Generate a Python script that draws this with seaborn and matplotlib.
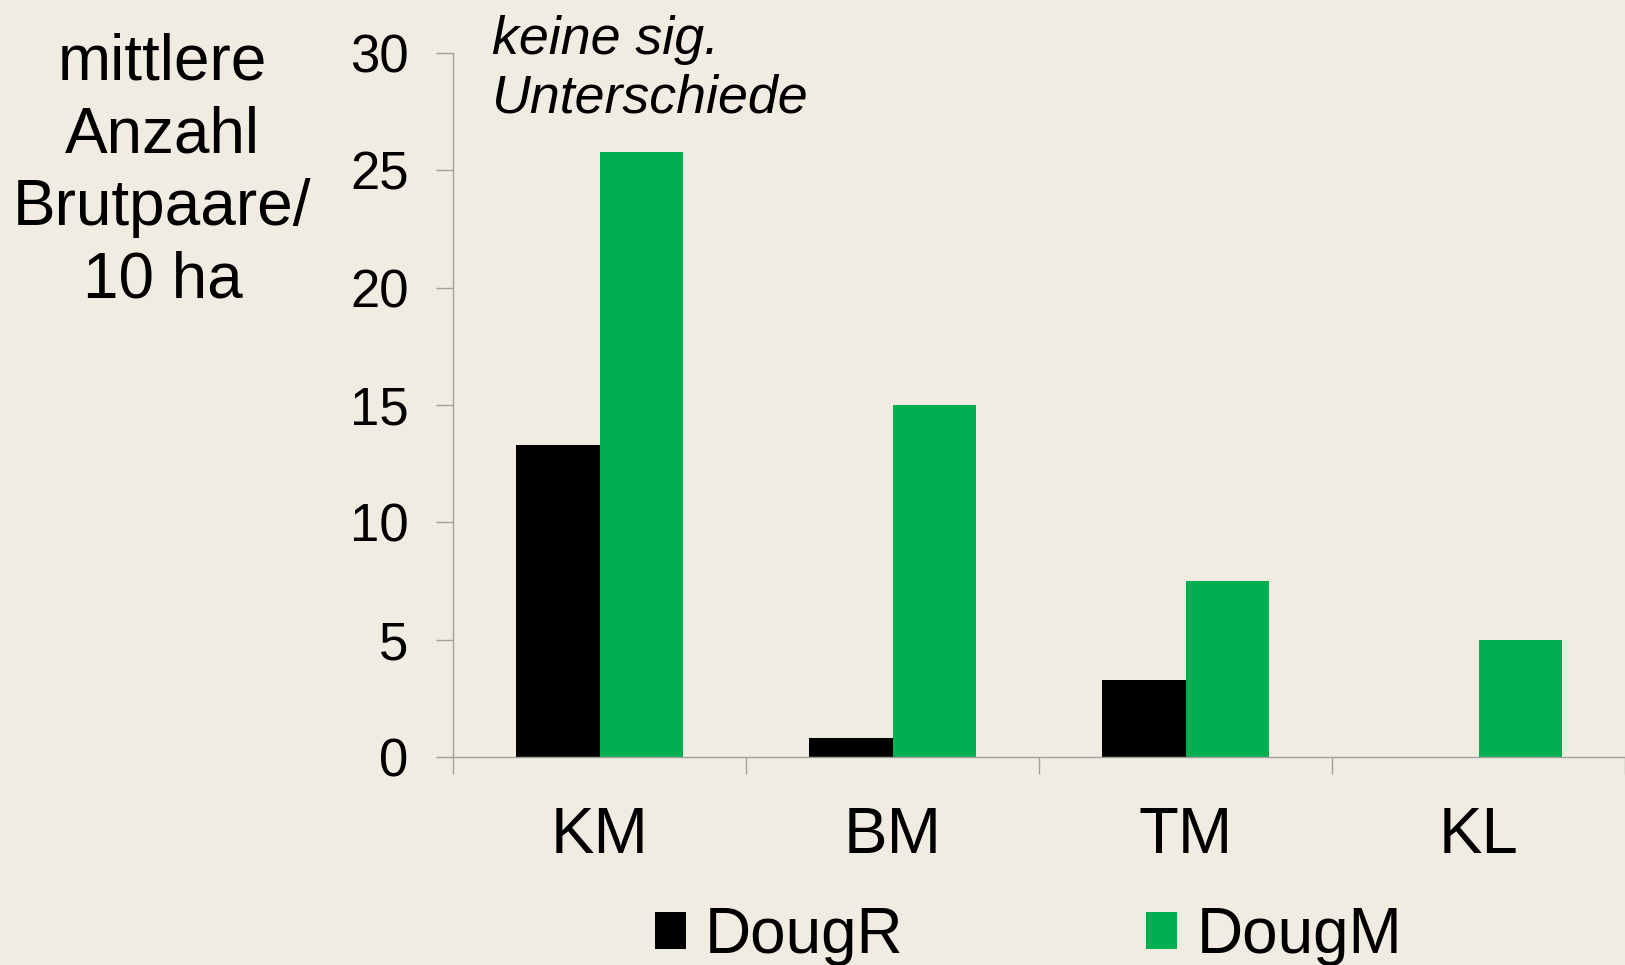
import numpy as np
import pandas as pd
import seaborn as sns
import matplotlib.pyplot as plt

# data
standorte = ['KM', 'BM', 'TM', 'KL']
dougr = [13.3, 0.8, 3.3, 0.0]
dougm = [25.8, 15.0, 7.5, 5.0]
serien = ['DougR', 'DougM']
farben = ['#000000', '#00B050']
yticks = [0, 5, 10, 15, 20, 25, 30]

df = pd.DataFrame({
    'Standort': standorte * 2,
    'Wert': dougr + dougm,
    'Serie': [serien[0]] * len(dougr) + [serien[1]] * len(dougm),
})

BG = '#F0ECE2'
GRAY = '#A0A0A0'

sns.set_theme(style='white')
plt.rcParams['font.family'] = ['Liberation Sans', 'DejaVu Sans']
plt.rcParams['text.color'] = 'black'

fig = plt.figure(figsize=(16.25, 9.65), dpi=100, facecolor=BG)
ax = fig.add_axes([0.2788, 0.2155, 0.7212, 0.7295])
ax.set_facecolor(BG)

sns.barplot(data=df, x='Standort', y='Wert', hue='Serie', order=standorte,
            hue_order=serien, palette=farben, width=0.57, gap=0,
            saturation=1, linewidth=0, ax=ax, legend=True)

ax.set_xlim(-0.5, 3.5)
ax.set_ylim(0, 30)
ax.set_yticks(yticks)
ax.set_xlabel('')
ax.set_ylabel('')

for s in ['top', 'right']:
    ax.spines[s].set_visible(False)
for s in ['left', 'bottom']:
    ax.spines[s].set_color(GRAY)
    ax.spines[s].set_linewidth(1.0)

ax.tick_params(axis='y', which='major', left=True, length=12, width=1,
               color=GRAY, labelsize=38, pad=20, labelcolor='black')
ax.tick_params(axis='x', which='major', bottom=True, length=0,
               labelsize=47, pad=35, labelcolor='black')
ax.set_xticks(np.arange(-0.5, 4.0, 1.0), minor=True)
ax.tick_params(axis='x', which='minor', bottom=True, length=12, width=1,
               color=GRAY)

ax.get_legend().remove()
handles, labels = ax.get_legend_handles_labels()
fig.legend(handles[:2], labels[:2], loc='center', ncol=2,
           bbox_to_anchor=(0.633, 0.030), frameon=False, fontsize=46,
           handlelength=0.48, handleheight=0.52, handletextpad=0.3,
           columnspacing=3.8, borderpad=0, labelcolor='black')

fig.text(0.1, 0.822, 'mittlere\nAnzahl\nBrutpaare/\n10 ha', ha='center',
         va='center', multialignment='center', fontsize=46, linespacing=1.27,
         color='black')
fig.text(0.303, 0.984, 'keine sig.\nUnterschiede', ha='left', va='top',
         fontsize=38.7, style='italic', linespacing=1.2, color='black')

fig.savefig('out.png', dpi=100, facecolor=BG)
